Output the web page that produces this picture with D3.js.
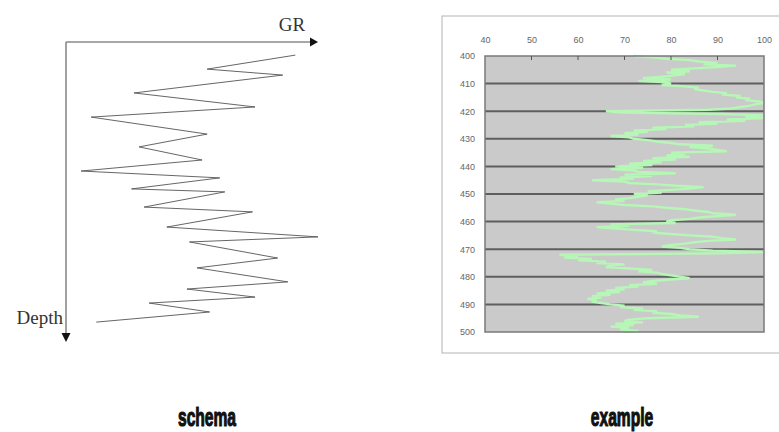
<!DOCTYPE html>
<html>
<head>
<meta charset="utf-8">
<script src="https://cdn.jsdelivr.net/npm/d3@7"></script>
<style>
  body { margin: 0; background: #fff; }
  svg { display: block; }
</style>
</head>
<body>
<svg id="chart" width="779" height="432"></svg>
<script>
// Schematic gamma-ray log: GR reading (relative units) against relative depth
const schemaGR = [91, 56, 86, 27, 75, 10, 56, 29, 54, 6, 61, 26, 63, 31, 74, 40, 100, 49, 84, 52, 88, 48, 75, 33, 57, 12];
const schemaDepth = [4.4, 9.1, 11.1, 17.1, 21.8, 25.2, 30.9, 35.2, 39.6, 43.3, 45.6, 49.3, 50.3, 55.4, 57.0, 62.1, 65.4, 67.1, 72.5, 75.8, 80.5, 82.9, 85.6, 87.6, 90.6, 94.0];

// Example gamma-ray log, one reading every half depth unit
const logDepth = [
  400, 400.5, 401, 401.5, 402, 402.5, 403, 403.5, 404, 404.5, 405, 405.5, 406, 406.5, 407, 407.5, 408, 408.5, 409, 409.5,
  410, 410.5, 411, 411.5, 412, 412.5, 413, 413.5, 414, 414.5, 415, 415.5, 416, 416.5, 417, 417.5, 418, 418.5, 419, 419.5,
  420, 420.5, 421, 421.5, 422, 422.5, 423, 423.5, 424, 424.5, 425, 425.5, 426, 426.5, 427, 427.5, 428, 428.5, 429, 429.5,
  430, 430.5, 431, 431.5, 432, 432.5, 433, 433.5, 434, 434.5, 435, 435.5, 436, 436.5, 437, 437.5, 438, 438.5, 439, 439.5,
  440, 440.5, 441, 441.5, 442, 442.5, 443, 443.5, 444, 444.5, 445, 445.5, 446, 446.5, 447, 447.5, 448, 448.5, 449, 449.5,
  450, 450.5, 451, 451.5, 452, 452.5, 453, 453.5, 454, 454.5, 455, 455.5, 456, 456.5, 457, 457.5, 458, 458.5, 459, 459.5,
  460, 460.5, 461, 461.5, 462, 462.5, 463, 463.5, 464, 464.5, 465, 465.5, 466, 466.5, 467, 467.5, 468, 468.5, 469, 469.5,
  470, 470.5, 471, 471.5, 472, 472.5, 473, 473.5, 474, 474.5, 475, 475.5, 476, 476.5, 477, 477.5, 478, 478.5, 479, 479.5,
  480, 480.5, 481, 481.5, 482, 482.5, 483, 483.5, 484, 484.5, 485, 485.5, 486, 486.5, 487, 487.5, 488, 488.5, 489, 489.5,
  490, 490.5, 491, 491.5, 492, 492.5, 493, 493.5, 494, 494.5, 495, 495.5, 496, 496.5, 497, 497.5, 498, 498.5, 499, 499.5,
  500];
const logGR = [
  72, 76, 79, 84, 86, 90, 87, 94, 90, 85, 80, 84, 79, 83, 81, 78, 74, 80, 73, 79,
  80, 78, 83, 86, 85, 87, 89, 92, 91, 95, 94, 97, 96, 99, 100, 98, 97, 95, 93, 88,
  66, 70, 91, 100, 96, 100, 92, 96, 86, 90, 83, 85, 76, 79, 72, 75, 70, 73, 67, 71,
  72, 75, 77, 80, 82, 89, 84, 88, 90, 92, 80, 83, 79, 84, 76, 81, 74, 78, 71, 76,
  68, 74, 67, 72, 73, 81, 70, 76, 69, 72, 63, 70, 71, 77, 81, 87, 84, 80, 75, 78,
  72, 75, 73, 71, 68, 70, 64, 67, 70, 76, 79, 83, 85, 88, 89, 94, 90, 86, 84, 80,
  79, 81, 67, 71, 64, 68, 72, 77, 76, 80, 84, 89, 91, 94, 88, 85, 83, 80, 78, 82,
  84, 89, 100, 90, 56, 60, 57, 63, 60, 66, 64, 70, 67, 66, 71, 76, 73, 77, 78, 80,
  82, 84, 80, 76, 74, 77, 71, 73, 68, 70, 66, 69, 64, 67, 63, 65, 62, 64, 63, 65,
  67, 70, 69, 74, 72, 77, 76, 80, 82, 86, 75, 71, 70, 74, 68, 72, 67, 71, 69, 73,
  70];

const grTicks = [40, 50, 60, 70, 80, 90, 100];
const depthTicks = [400, 410, 420, 430, 440, 450, 460, 470, 480, 490, 500];
const panelTitles = ["schema", "example"];
const axisNames = ["GR", "Depth"];

const svg = d3.select("#chart");

// ---------- schematic panel ----------
const sx = d3.scaleLinear().domain([0, 100]).range([66, 318]);
const sy = d3.scaleLinear().domain([0, 100]).range([42, 340]);
const schema = svg.append("g");

schema.append("line")
  .attr("x1", sx(0)).attr("y1", sy(0))
  .attr("x2", sx(100) - 7).attr("y2", sy(0))
  .attr("stroke", "#8a8a8a").attr("stroke-width", 1.6);
schema.append("line")
  .attr("x1", sx(0)).attr("y1", sy(0))
  .attr("x2", sx(0)).attr("y2", sy(100) - 6)
  .attr("stroke", "#8a8a8a").attr("stroke-width", 1.6);
schema.append("path")
  .attr("d", `M${sx(100)},${sy(0)} L${sx(100) - 8},${sy(0) - 4.5} L${sx(100) - 8},${sy(0) + 4.5} Z`)
  .attr("fill", "#111");
schema.append("path")
  .attr("d", `M${sx(0)},${sy(100) + 2} L${sx(0) - 4.5},${sy(100) - 7} L${sx(0) + 4.5},${sy(100) - 7} Z`)
  .attr("fill", "#111");

schema.append("path")
  .datum(d3.zip(schemaGR, schemaDepth))
  .attr("fill", "none")
  .attr("stroke", "#555")
  .attr("stroke-width", 0.9)
  .attr("d", d3.line().x(d => sx(d[0])).y(d => sy(d[1])));

schema.append("text")
  .attr("x", 292).attr("y", 31)
  .attr("text-anchor", "middle")
  .attr("font-family", "Liberation Serif, Times New Roman, serif")
  .attr("font-size", 19).attr("fill", "#333")
  .text(axisNames[0]);
schema.append("text")
  .attr("x", sx(0) - 3).attr("y", 324)
  .attr("text-anchor", "end")
  .attr("font-family", "Liberation Serif, Times New Roman, serif")
  .attr("font-size", 19).attr("fill", "#333")
  .text(axisNames[1]);

// ---------- example panel ----------
const ex = d3.scaleLinear().domain([40, 100]).range([485, 764]);
const ey = d3.scaleLinear().domain([400, 500]).range([56, 332]);
const example = svg.append("g");

example.append("rect")
  .attr("x", 442).attr("y", 16).attr("width", 345).attr("height", 337)
  .attr("fill", "#fff").attr("stroke", "#b4b4b4").attr("stroke-width", 1);

example.append("rect")
  .attr("x", ex(40)).attr("y", ey(400))
  .attr("width", ex(100) - ex(40)).attr("height", ey(500) - ey(400))
  .attr("fill", "#cacaca");

example.selectAll("line.grid")
  .data(depthTicks.slice(1, -1))
  .join("line")
  .attr("class", "grid")
  .attr("x1", ex(40)).attr("x2", ex(100))
  .attr("y1", d => ey(d)).attr("y2", d => ey(d))
  .attr("stroke", "#5e5e5e").attr("stroke-width", 2);

example.append("path")
  .datum(d3.zip(logGR, logDepth))
  .attr("fill", "none")
  .attr("stroke", "#b6f6b6")
  .attr("stroke-width", 2.4)
  .attr("stroke-linejoin", "miter")
  .attr("stroke-miterlimit", 2)
  .attr("d", d3.line().x(d => ex(d[0])).y(d => ey(d[1])));

example.append("rect")
  .attr("x", ex(40)).attr("y", ey(400))
  .attr("width", ex(100) - ex(40)).attr("height", ey(500) - ey(400))
  .attr("fill", "none").attr("stroke", "#7a7a7a").attr("stroke-width", 1.5);

const xAxis = d3.axisTop(ex).tickValues(grTicks).tickSize(0).tickPadding(13);
example.append("g")
  .attr("transform", `translate(0,${ey(400)})`)
  .call(xAxis)
  .call(g => g.select(".domain").remove())
  .call(g => g.selectAll("text")
    .attr("font-family", "Liberation Sans, Arial, sans-serif")
    .attr("font-size", 9).attr("fill", "#666"));

// inward tick marks along the top edge
example.selectAll("line.tick-in")
  .data(grTicks.slice(1, -1))
  .join("line")
  .attr("class", "tick-in")
  .attr("x1", d => ex(d)).attr("x2", d => ex(d))
  .attr("y1", ey(400)).attr("y2", ey(400) + 4)
  .attr("stroke", "#555").attr("stroke-width", 1);

const yAxis = d3.axisLeft(ey).tickValues(depthTicks).tickSize(0).tickPadding(10);
example.append("g")
  .attr("transform", `translate(${ex(40)},0)`)
  .call(yAxis)
  .call(g => g.select(".domain").remove())
  .call(g => g.selectAll("text")
    .attr("font-family", "Liberation Sans, Arial, sans-serif")
    .attr("font-size", 9).attr("fill", "#666"));

// ---------- panel titles (condensed heavy lettering) ----------
svg.selectAll("text.title")
  .data(panelTitles)
  .join("text")
  .attr("class", "title")
  .attr("transform", (d, i) => `translate(${i === 0 ? 207 : 622},426) scale(0.6,1)`)
  .attr("text-anchor", "middle")
  .attr("font-family", "Liberation Sans, Arial, sans-serif")
  .attr("font-weight", "bold")
  .attr("font-size", 26)
  .attr("fill", "#111")
  .attr("stroke", "#111")
  .attr("stroke-width", 1.2)
  .attr("stroke-linejoin", "round")
  .text(d => d);
</script>
</body>
</html>
